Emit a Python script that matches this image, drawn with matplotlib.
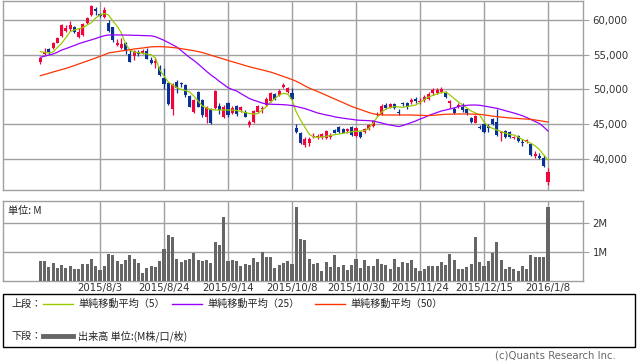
import numpy as np
import matplotlib
matplotlib.use("Agg")
import matplotlib.pyplot as plt
from matplotlib.lines import Line2D
from matplotlib.patches import Rectangle

# daily candles 2015/7/13 .. 2016/1/8 (trading-day index 0..119)
opens = [53940, 55090, 55770, 55920, 56720, 57690, 58460, 58660, 59030, 57590,
         57840, 59610, 60720, 61590, 60870, 60390, 59520, 58950, 56390, 55920,
         56720, 55090, 54810, 55340, 55280, 55570, 54230, 53840, 53260, 51590,
         50870, 47110, 51100, 50870, 50620, 49080, 46770, 49650, 48460, 46050,
         47110, 47260, 47590, 46050, 47980, 46620, 47590, 47010, 46770, 44850,
         45330, 46770, 47110, 47740, 48360, 49320, 49180, 50380, 49650, 49420,
         44460, 43740, 41960, 42290, 43070, 43070, 43070, 42930, 43070, 44130,
         44600, 44230, 43980, 44600, 43260, 43880, 43880, 44230, 44700, 46290,
         46440, 47740, 47350, 47840, 46770, 47980, 48070, 48210, 48560, 48170,
         48460, 48560, 49420, 49510, 49650, 49510, 48070, 47160, 47490, 47490,
         47110, 45820, 45180, 44600, 44950, 44750, 45670, 45330, 43650, 43980,
         43880, 42930, 43260, 42440, 42400, 42060, 40380, 40380, 40040, 36670]
highs = [54700, 55920, 56000, 56870, 57500, 59380, 59230, 59900, 59180, 58800,
         59520, 60480, 62120, 61830, 61050, 61920, 60000, 59030, 57210, 57360,
         56870, 55670, 55670, 55670, 55770, 55920, 54700, 54470, 53510, 53030,
         51100, 50870, 51340, 51100, 50770, 49180, 48600, 49760, 48560, 47590,
         47260, 49900, 47980, 47740, 48210, 47590, 47740, 47590, 47010, 45570,
         47010, 47740, 47590, 48850, 49610, 49470, 50000, 50870, 50330, 50140,
         44990, 43880, 43070, 43070, 43650, 43550, 43740, 44130, 43740, 44270,
         44700, 44370, 44370, 44700, 44600, 44030, 44370, 44990, 45570, 46770,
         47840, 48070, 48070, 48070, 47110, 48210, 48210, 48700, 48850, 48700,
         49180, 49610, 50140, 50190, 50290, 49760, 48460, 47490, 47980, 47980,
         47350, 45960, 46290, 44850, 45090, 44990, 45820, 47110, 44030, 44130,
         44030, 43260, 43410, 42790, 42790, 42210, 41140, 40770, 40520, 38600]
lows = [53650, 54950, 55090, 55770, 56640, 57500, 58310, 58460, 58080, 57360,
        57690, 59420, 60580, 60720, 60480, 60250, 58230, 56870, 56250, 55770,
        55050, 53900, 54230, 54810, 55090, 54330, 53650, 53030, 51920, 50000,
        47740, 46290, 49420, 50380, 48930, 47400, 46540, 47400, 46050, 45180,
        44990, 47110, 46440, 45820, 45960, 46440, 46150, 46770, 45960, 44600,
        45180, 46540, 46620, 47590, 48210, 48460, 49030, 50140, 49470, 48460,
        43650, 42110, 41630, 41820, 42930, 42870, 42870, 42790, 42790, 43650,
        43740, 43650, 43740, 43260, 43070, 42930, 43740, 44130, 44600, 46150,
        46290, 47110, 47260, 47110, 46290, 47590, 47160, 47880, 48070, 47880,
        48210, 48460, 49180, 49320, 49470, 48750, 47260, 46440, 47260, 46770,
        46290, 45180, 45090, 44230, 43740, 43880, 44850, 43260, 42580, 42930,
        42930, 42790, 42440, 41820, 42210, 40380, 40040, 39900, 38830, 36190]
closes = [54520, 55430, 55430, 56720, 57360, 59280, 58890, 59280, 58230, 58310,
          59420, 60330, 62020, 61340, 60580, 61440, 58410, 57110, 56720, 56540,
          55670, 53980, 55530, 55140, 55570, 54330, 53750, 54080, 52060, 50770,
          47880, 50770, 50140, 50720, 49180, 47490, 48460, 47490, 46290, 47490,
          45090, 49760, 47010, 47490, 46290, 47260, 46390, 47490, 46050, 45330,
          46910, 47590, 47350, 48560, 49420, 48560, 49800, 50620, 50190, 48560,
          43880, 42210, 42790, 42870, 43300, 43260, 43550, 43980, 43410, 43740,
          43880, 43740, 44230, 43410, 44370, 43070, 44230, 44850, 45430, 46440,
          47630, 47260, 47840, 47350, 46620, 47840, 47400, 48460, 48360, 48360,
          48930, 49320, 49900, 49900, 50000, 48850, 48360, 46540, 47740, 47010,
          46540, 45330, 46150, 44460, 43880, 44370, 44990, 43410, 43880, 43070,
          43070, 43160, 42580, 42290, 42680, 40520, 40620, 40040, 38930, 38110]

# moving averages as drawn
ma5 = [55430, 55340, 55240, 55380, 56030, 56640, 57470, 58310, 58560, 58740,
       58920, 59280, 59640, 60290, 60720, 60940, 60720, 59860, 59130, 58120,
       56540, 55670, 55380, 55280, 55190, 55090, 54990, 54520, 52790, 51920,
       51050, 50620, 50260, 49970, 49830, 49610, 49030, 48310, 47590, 47300,
       47090, 47010, 47010, 47010, 47010, 47010, 46940, 46800, 46650, 46510,
       46440, 46510, 47010, 47490, 48170, 48670, 49180, 49420, 49320, 48460,
       46720, 45570, 44560, 43550, 43120, 43070, 43120, 43220, 43330, 43450,
       43550, 43650, 43770, 43880, 43940, 43980, 44030, 44340, 45140, 46000,
       46720, 47160, 47370, 47490, 47450, 47400, 47520, 47630, 47740, 48100,
       48530, 48890, 49110, 49320, 49540, 49610, 49180, 48670, 48170, 47740,
       47300, 46870, 46580, 46290, 45280, 44630, 44370, 44130, 43910, 43690,
       43480, 43410, 43120, 42760, 42470, 42210, 41820, 41310, 40520, 39800]
ma25 = [54620, 54780, 54940, 55090, 55350, 55660, 55870, 56100, 56330, 56570,
        56770, 56960, 57140, 57330, 57550, 57730, 57840, 57840, 57840, 57840,
        57820, 57810, 57790, 57780, 57750, 57730, 57720, 57580, 57330, 57070,
        56750, 56420, 56090, 55600, 55090, 54590, 54160, 53650, 53120, 52570,
        52060, 51630, 51130, 50690, 50230, 49970, 49760, 49390, 49030, 48670,
        48430, 48240, 48020, 47880, 47850, 47820, 47810, 47780, 47730, 47650,
        47520, 47370, 47220, 47010, 46800, 46580, 46440, 46290, 46180, 46030,
        45920, 45830, 45740, 45670, 45570, 45530, 45500, 45470, 45430, 45280,
        45140, 44960, 44850, 44730, 44630, 44780, 44990, 45210, 45430, 45710,
        45930, 46220, 46440, 46650, 46870, 47010, 47160, 47300, 47520, 47630,
        47690, 47730, 47730, 47690, 47590, 47480, 47370, 47260, 47090, 46910,
        46750, 46580, 46390, 46180, 45930, 45640, 45350, 45070, 44560, 43980]
ma50 = [51960, 52140, 52310, 52500, 52670, 52840, 53020, 53220, 53430, 53650,
        53870, 54080, 54300, 54520, 54750, 54990, 55240, 55340, 55430, 55530,
        55610, 55710, 55820, 55890, 55960, 56050, 56130, 56150, 56150, 56130,
        56090, 56030, 55960, 55870, 55770, 55670, 55560, 55440, 55300, 55110,
        54920, 54730, 54550, 54360, 54160, 53980, 53800, 53620, 53430, 53250,
        53100, 52940, 52800, 52640, 52480, 52280, 52060, 51850, 51630, 51410,
        51150, 50840, 50500, 50190, 49930, 49680, 49420, 49150, 48870, 48600,
        48340, 48070, 47790, 47520, 47300, 47090, 46870, 46650, 46470, 46360,
        46320, 46290, 46290, 46290, 46290, 46290, 46290, 46290, 46260, 46250,
        46220, 46200, 46250, 46290, 46350, 46390, 46410, 46420, 46440, 46440,
        46440, 46420, 46410, 46390, 46310, 46220, 46130, 46050, 45990, 45930,
        45870, 45820, 45790, 45740, 45700, 45660, 45570, 45480, 45380, 45280]

# volume, millions
volume = [0.68, 0.68, 0.47, 0.61, 0.44, 0.54, 0.44, 0.51, 0.40, 0.40,
          0.58, 0.58, 0.75, 0.51, 0.37, 0.51, 0.92, 0.89, 0.68, 0.58,
          0.71, 0.89, 0.75, 0.61, 0.27, 0.44, 0.51, 0.47, 0.68, 1.09,
          1.58, 1.51, 0.75, 0.64, 0.71, 0.75, 0.96, 0.71, 0.68, 0.71,
          0.61, 1.33, 1.23, 2.20, 0.68, 0.71, 0.68, 0.51, 0.58, 0.54,
          0.78, 0.64, 0.99, 0.82, 0.82, 0.44, 0.54, 0.61, 0.68, 0.58,
          2.54, 1.44, 1.40, 0.75, 0.58, 0.61, 0.33, 0.64, 0.47, 0.89,
          0.47, 0.54, 0.37, 0.54, 0.75, 0.44, 0.71, 0.51, 0.51, 0.75,
          0.58, 0.54, 0.40, 0.75, 0.47, 0.64, 0.61, 0.71, 0.44, 0.33,
          0.40, 0.51, 0.51, 0.51, 0.64, 0.54, 0.92, 0.71, 0.40, 0.40,
          0.47, 0.58, 1.51, 0.64, 0.51, 0.68, 0.96, 1.33, 0.71, 0.40,
          0.47, 0.40, 0.33, 0.51, 0.40, 0.89, 0.82, 0.82, 0.82, 2.54]

tick_idx = [14, 29, 44, 59, 74, 89, 104, 119]
tick_labels = ["2015/8/3", "2015/8/24", "2015/9/14", "2015/10/8",
               "2015/10/30", "2015/11/24", "2015/12/15", "2016/1/8"]
price_ticks = [40000, 45000, 50000, 55000, 60000]

JP = ["Noto Sans CJK JP", "DejaVu Sans"]
UP, DOWN = "#f0063c", "#0a3296"
GRID = "#a0a0a0"

W, H = 638, 362
fig = plt.figure(figsize=(W / 100, H / 100), dpi=100)


def px_axes(x0, y0, x1, y1):
    return fig.add_axes([x0 / W, 1 - y1 / H, (x1 - x0) / W, (y1 - y0) / H])


x = np.arange(len(closes))
o = np.array(opens)
c = np.array(closes)
up = c >= o
colors = np.where(up, UP, DOWN)

ax = px_axes(3, 1, 583, 190)
ax.vlines(x, lows, highs, colors=colors, linewidth=0.9, zorder=2)
body_lo = np.minimum(o, c)
body_h = np.maximum(np.abs(c - o), 60)
ax.bar(x, body_h, bottom=body_lo, width=0.72, color=colors, linewidth=0, zorder=3)
ax.plot(x, ma5, color="#99cc00", linewidth=0.9, zorder=4)
ax.plot(x, ma25, color="#9900ff", linewidth=0.9, zorder=4)
ax.plot(x, ma50, color="#ff3300", linewidth=0.9, zorder=4)
ax.set_xlim(-8.74, 127.2)
ax.set_ylim(35470, 62740)
ax.set_xticks(tick_idx)
ax.set_xticklabels([])
ax.set_yticks(price_ticks)
ax.set_yticklabels([f"{v:,}" for v in price_ticks])
ax.yaxis.tick_right()
ax.tick_params(axis="y", length=4, color=GRID, labelsize=7.3, labelcolor="#333333", pad=3)
ax.tick_params(axis="x", length=0)
ax.grid(True, color=GRID, linewidth=1.0)
ax.set_axisbelow(True)
for s in ax.spines.values():
    s.set_color(GRID)
    s.set_linewidth(1.0)

vax = px_axes(3, 201, 583, 280.7)
vax.bar(x, volume, width=0.72, color="#666666", linewidth=0, zorder=3)
vax.set_xlim(-8.74, 127.2)
vax.set_ylim(0, 2.75)
vax.set_yticks([1, 2])
vax.set_yticklabels(["1M", "2M"])
vax.yaxis.tick_right()
vax.tick_params(axis="y", length=4, color=GRID, labelsize=7.3, labelcolor="#333333", pad=3)
vax.set_xticks(tick_idx)
vax.set_xticklabels(tick_labels)
vax.tick_params(axis="x", length=0, labelsize=7.3, labelcolor="#333333", pad=2)
vax.grid(True, color=GRID, linewidth=1.0)
vax.set_axisbelow(True)
for s in vax.spines.values():
    s.set_color(GRID)
    s.set_linewidth(1.0)
vax.text(0.009, 0.88, "単位: M", transform=vax.transAxes, fontsize=7.3,
         family=JP, color="#222222", va="center", ha="left")

# legend box
fig.add_artist(Rectangle((3 / W, 1 - 347 / H), 632 / W, 53 / H, transform=fig.transFigure,
                         fill=False, edgecolor="black", linewidth=1.0))


def fig_text(px, py, s, **kw):
    fig.text(px / W, 1 - py / H, s, fontsize=7.3, family=JP, color="#222222",
             va="center", ha="left", **kw)


def fig_line(x0, x1, py, color, lw):
    fig.add_artist(Line2D([x0 / W, x1 / W], [1 - py / H, 1 - py / H],
                          transform=fig.transFigure, color=color, linewidth=lw))


fig_text(11, 304, "上段：")
fig_line(43, 73, 304, "#99cc00", 1.0)
fig_text(78, 304, "単純移動平均（5）")
fig_line(172, 202, 304, "#9900ff", 1.0)
fig_text(207, 304, "単純移動平均（25）")
fig_line(315, 345, 304, "#ff3300", 1.0)
fig_text(350, 304, "単純移動平均（50）")
fig_text(11, 336, "下段：")
fig_line(43, 73, 336, "#666666", 3.5)
fig_text(78, 336, "出来高 単位:(M株/口/枚)")

fig.text(616 / W, 1 - 356 / H, "(c)Quants Research Inc.", fontsize=7.3,
         color="#666666", ha="right", va="center")

fig.savefig("out.png", dpi=100)
